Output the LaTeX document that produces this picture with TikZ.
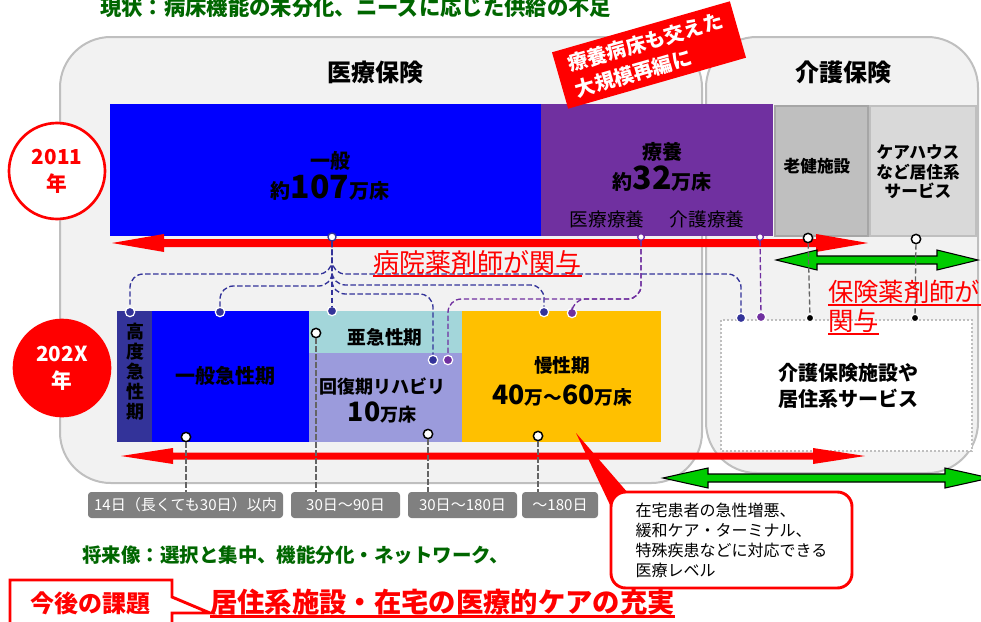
\documentclass[tikz,border=0pt]{standalone}
\usepackage{fontspec}
\setmainfont{Noto Sans CJK JP}
\usetikzlibrary{positioning, calc}

\definecolor{panelfill}{RGB}{242,242,242}
\definecolor{panelline}{RGB}{191,191,191}
\definecolor{ippanblue}{RGB}{0,0,255}
\definecolor{ryoyopurple}{RGB}{112,48,160}
\definecolor{rokengray}{RGB}{191,191,191}
\definecolor{carehouse}{RGB}{217,217,217}
\definecolor{kodonavy}{RGB}{51,51,153}
\definecolor{akyuteal}{RGB}{163,214,218}
\definecolor{kaifukulav}{RGB}{155,155,220}
\definecolor{manseiorange}{RGB}{255,192,0}
\definecolor{arrowgreen}{RGB}{0,204,0}
\definecolor{textgreen}{RGB}{0,102,0}
\definecolor{labelgray}{RGB}{128,128,128}
\definecolor{dashgray}{RGB}{100,100,100}

\begin{document}
\begin{tikzpicture}[x=0.75pt, y=-0.75pt,
    panel/.style={draw=panelline, line width=1.5pt, fill=panelfill, rounded corners=38pt},
    head/.style={font=\fontsize{18}{20}\selectfont\bfseries, inner sep=0},
    btext/.style={font=\fontsize{15}{22}\selectfont\bfseries, align=center, inner sep=0},
    ntext/.style={font=\fontsize{14}{16}\selectfont, inner sep=0},
    year/.style={circle, draw=red, line width=2pt, minimum size=72pt, inner sep=0, align=center,
        font=\fontsize{15.5}{20}\selectfont\bfseries},
    hubdot/.style={circle, draw=kodonavy, line width=1pt, fill=white, inner sep=0, minimum size=6pt},
    ndot/.style={circle, draw=white, line width=0.9pt, fill=kodonavy, inner sep=0, minimum size=7pt},
    pdot/.style={ndot, fill=ryoyopurple},
    wdot/.style={circle, draw=black, line width=1.1pt, fill=white, inner sep=0, minimum size=7pt},
    kdot/.style={circle, draw=white, line width=0.8pt, fill=black, inner sep=0, minimum size=5.5pt},
    navydash/.style={draw=kodonavy, line width=1pt, dash pattern=on 4pt off 2pt, rounded corners=10pt},
    purpdash/.style={navydash, draw=ryoyopurple},
    graydash/.style={draw=dashgray, line width=1pt, dash pattern=on 4pt off 2pt},
    daylabel/.style={fill=labelgray, rounded corners=2.5pt, text=white, minimum height=19.5pt,
        inner sep=0, font=\fontsize{11.3}{12}\selectfont},
    redline/.style={red, line width=1.5pt}]

\useasboundingbox (0,0) rectangle (981,621);

% top line
\node[anchor=base west, inner sep=0, text=textgreen, font=\fontsize{16}{18}\selectfont\bfseries]
    (genjo) at (100,15) {現状：病床機能の未分化、ニーズに応じた供給の不足};

% the two insurance panels
\draw[panel] (60,37) rectangle (702,483);
\draw[panel] (706,37) rectangle (978,473);
\node[head] (iryo) at (375,72) {医療保険};
\node[head] (kaigo) at (843,72) {介護保険};

% 2011 beds
\fill[ippanblue] (110,104) rectangle (541,236);
\fill[ryoyopurple] (541,104) rectangle (773,236);
\draw[line width=1pt, draw=black!35, fill=rokengray] (775,106) rectangle (868,236);
\draw[line width=1pt, draw=panelline, fill=carehouse] (870,106) rectangle (976,236);

\node[btext] (ippan) at (330,176) {一般\\約{\fontsize{24}{24}\selectfont 107}万床};
\node[btext] (ryoyo) at (662,167) {療養\\約{\fontsize{24}{24}\selectfont 32}万床};
\node[ntext] (iryoryoyo) at (607,219) {医療療養};
\node[ntext] (kaigoryoyo) at (707,219) {介護療養};
\node[btext, font=\fontsize{12.5}{15}\selectfont\bfseries] (roken) at (817,166) {老健施設};
\node[btext, font=\fontsize{12.5}{14.6}\selectfont\bfseries] (care) at (918,172) {ケアハウス\\など居住系\\サービス};

% 202X beds
\fill[kodonavy] (117,311) rectangle (152,442);
\fill[ippanblue] (152,311) rectangle (309,442);
\fill[akyuteal] (309,311) rectangle (462,353);
\fill[kaifukulav] (309,353) rectangle (462,442);
\fill[manseiorange] (462,311) rectangle (661,442);
\draw[draw=panelline, line width=1.5pt, dash pattern=on 1.5pt off 1.5pt, fill=white] (721,320) rectangle (972,451);

\node[btext, font=\fontsize{13.5}{15}\selectfont\bfseries] (kodo) at (135,372) {高\\度\\急\\性\\期};
\node[btext] (kyusei) at (225,376) {一般急性期};
\node[btext, font=\fontsize{14}{18}\selectfont\bfseries] (akyusei) at (385,337) {亜急性期};
\node[btext, font=\fontsize{13.5}{21}\selectfont\bfseries] (kaifuku) at (382,400)
    {回復期リハビリ\\{\fontsize{20}{20}\selectfont 10}万床};
\node[btext, font=\fontsize{14}{24}\selectfont\bfseries] (mansei) at (562,381)
    {慢性期\\{\fontsize{20}{20}\selectfont 40}万～{\fontsize{20}{20}\selectfont 60}万床};
\node[btext, font=\fontsize{15}{19}\selectfont\bfseries] (shisetsu) at (848,386) {介護保険施設や\\居住系サービス};

% years
\node[year, fill=white, text=red] (y2011) at (57,171) {2011\\年};
\node[year, fill=red, text=white] (y202x) at (62,368) {202X\\年};

% red and green arrows
\coordinate (ra1) at (112,243);
\coordinate (ra2) at (868,243);
\fill[red] (ra1) -- ++(52,-9) -- ++(0,5) -- ($(ra2)+(-52,-4)$) -- ++(0,-5) -- (ra2)
    -- ++(-52,9) -- ++(0,-5) -- ($(ra1)+(52,4)$) -- ++(0,5) -- cycle;
\coordinate (rb1) at (121,456);
\coordinate (rb2) at (865,456);
\fill[red] (rb1) -- ++(52,-8) -- ++(0,4.5) -- ($(rb2)+(-52,-3.5)$) -- ++(0,-4.5) -- (rb2)
    -- ++(-52,8) -- ++(0,-4.5) -- ($(rb1)+(52,3.5)$) -- ++(0,4.5) -- cycle;
\coordinate (ga1) at (776,260);
\coordinate (ga2) at (978,260);
\draw[fill=arrowgreen, line width=0.8pt] (ga1) -- ++(41,-10) -- ++(0,6) -- ($(ga2)+(-41,-4)$) -- ++(0,-6) -- (ga2)
    -- ++(-41,10) -- ++(0,-6) -- ($(ga1)+(41,4)$) -- ++(0,6) -- cycle;
\coordinate (gb1) at (663,478);
\coordinate (gb2) at (990,478);
\draw[fill=arrowgreen, line width=0.8pt] (gb1) -- ++(45,-10) -- ++(0,6) -- ($(gb2)+(-45,-4)$) -- ++(0,-6) -- (gb2)
    -- ++(-45,10) -- ++(0,-6) -- ($(gb1)+(45,4)$) -- ++(0,6) -- cycle;

% stay length labels
\node[daylabel, minimum width=146.25pt] (lab1) at (185.5,505) {14日（長くても30日）以内};
\node[daylabel, minimum width=81.75pt] (lab2) at (345.5,505) {30日～90日};
\node[daylabel, minimum width=81.75pt] (lab3) at (462.5,505) {30日～180日};
\node[daylabel, minimum width=57pt] (lab4) at (560,505) {～180日};

% dots
\node[hubdot] (hub) at (332,237) {};
\node[ndot] (d1) at (130,312) {};
\node[ndot] (d2) at (220,312) {};
\node[ndot] (d3) at (332,311) {};
\node[ndot] (d4) at (433,360) {};
\node[ndot] (d5) at (544,312) {};
\node[ndot] (d6) at (741,318) {};
\node[hubdot, draw=ryoyopurple, minimum size=5pt] (pa) at (641,237) {};
\node[hubdot, draw=ryoyopurple, minimum size=5pt] (pb) at (760,237) {};
\node[pdot] (p3) at (448,360) {};
\node[pdot] (p4) at (572,313) {};
\node[pdot] (p5) at (761,317) {};
\node[wdot] (g1) at (808,238) {};
\node[wdot] (g2) at (916,239) {};
\node[kdot] (k1) at (810,318) {};
\node[kdot] (k2) at (915,318) {};
\node[wdot] (w1) at (186,437) {};
\node[wdot] (w2) at (316,333) {};
\node[wdot] (w3) at (428,434) {};
\node[wdot] (w4) at (538,436) {};

% hospital pharmacist links
\draw[navydash] (hub) |- (130,274) -- (d1);
\draw[navydash] (hub) |- (220,286) -- (d2);
\draw[navydash] (hub) -- (d3);
\draw[navydash] (hub) |- (433,294) -- (d4);
\draw[navydash] (hub) |- (544,285) -- (d5);
\draw[navydash] (hub) |- (741,274) -- (d6);
\draw[purpdash] (pa) |- (448,299) -- (p3);
\draw[purpdash] (pa) |- (572,299) -- (p4);
\draw[purpdash] (pb) -- (p5);
\draw[graydash] (g1) -- (k1);
\draw[graydash] (g2) -- (k2);
\draw[graydash] (w1) -- (w1 |- lab1.north);
\draw[graydash] (w2) -- (w2 |- lab2.north);
\draw[graydash] (w3) -- (w3 |- lab3.north);
\draw[graydash] (w4) -- (w4 |- lab4.north);

% pharmacist labels
\node[anchor=base west, inner sep=0, text=red, font=\fontsize{19.5}{22}\selectfont] (byoin) at (373,272) {病院薬剤師が関与};
\draw[redline] ([yshift=-3pt]byoin.base west) -- ([yshift=-3pt]byoin.base east);
\node[anchor=base west, inner sep=0, text=red, font=\fontsize{19}{22}\selectfont] (hoken) at (828,301) {保険薬剤師が};
\draw[redline] ([yshift=-3pt]hoken.base west) -- ([yshift=-3pt]hoken.base east);
\node[anchor=base west, inner sep=0, text=red, font=\fontsize{19}{22}\selectfont] (kanyo) at (828,330) {関与};
\draw[redline] ([yshift=-3pt]kanyo.base west) -- ([yshift=-3pt]kanyo.base east);

% reorganisation flag
\node[fill=red, rotate=16, text=white, align=left, font=\fontsize{15}{20}\selectfont\bfseries,
    minimum width=138.75pt, minimum height=44pt] (saihen) at (649,55) {療養病床も交えた\\大規模再編に};

% callout for home care
\coordinate (tip) at (576,433);
\fill[red] (tip) -- (611,507) -- (628,493) -- cycle;
\node[draw=red, line width=2.2pt, fill=white, rounded corners=11pt, minimum width=180.75pt,
    minimum height=72pt, align=left, font=\fontsize{12}{15}\selectfont] (zaitaku) at (731.5,540)
    {在宅患者の急性増悪、\\緩和ケア・ターミナル、\\特殊疾患などに対応できる\\医療レベル};

% future
\node[anchor=base west, inner sep=0, text=textgreen, font=\fontsize{14.6}{17}\selectfont\bfseries]
    (shorai) at (82,562) {将来像：選択と集中、機能分化・ネットワーク、};
\draw[red, line width=2.2pt, fill=white] (10,580) -- (172,580) -- (172,597) -- (210,613)
    -- (172,613) -- (172,630) -- (10,630) -- cycle;
\node[text=red, font=\fontsize{18}{20}\selectfont\bfseries, inner sep=0] (kadai) at (90,603) {今後の課題};
\node[anchor=base west, inner sep=0, text=red, font=\fontsize{20.5}{22}\selectfont\bfseries]
    (juujitsu) at (210,612) {居住系施設・在宅の医療的ケアの充実};
\draw[redline, line width=2pt] ([yshift=-3.5pt]juujitsu.base west) -- ([yshift=-3.5pt]juujitsu.base east);

\end{tikzpicture}
\end{document}
